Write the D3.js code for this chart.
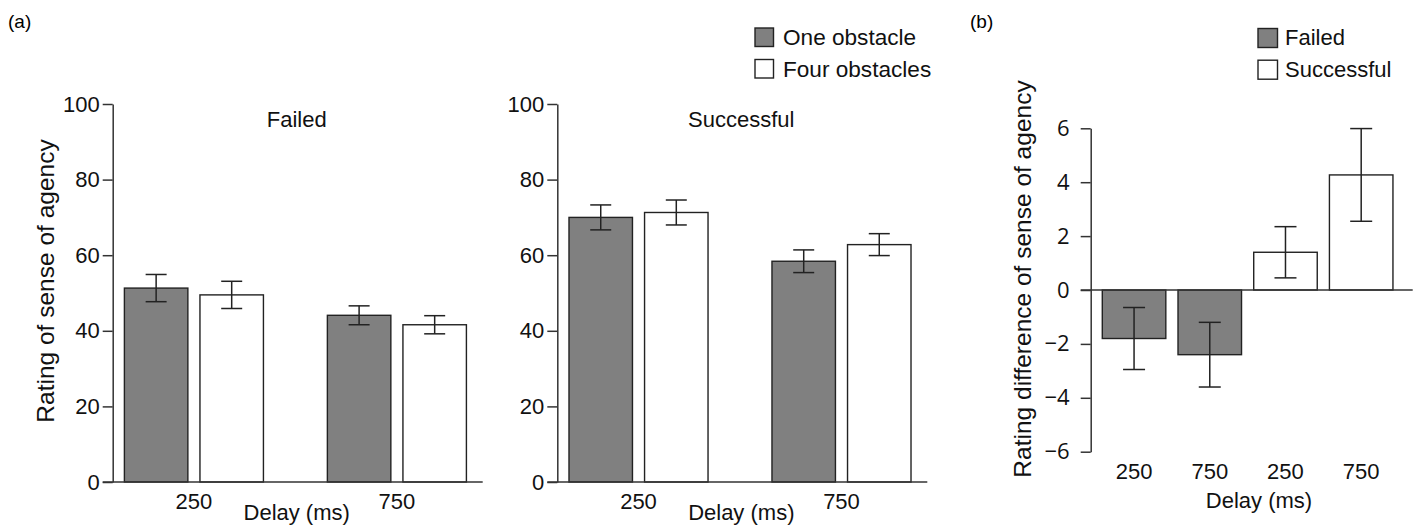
<!DOCTYPE html>
<html>
<head>
<meta charset="utf-8">
<script src="https://cdn.jsdelivr.net/npm/d3@7"></script>
<style>
body{margin:0;background:#fff;}
svg{display:block;font-family:"Liberation Sans",Arial,sans-serif;}
.axis path,.axis line{stroke:#333;stroke-width:1.5;}
.axis text{font-size:22px;fill:#111;font-family:"Liberation Sans",Arial,sans-serif;}
.tnum text{font-family:"Open Sans","Noto Sans",sans-serif;}
.lbl{font-size:22px;fill:#111;}
.ylbl{font-size:24.5px;fill:#111;}
</style>
</head>
<body>
<div id="chart"></div>
<script>
const width = 1414;
const height = 525;

// data
const delays = ["250","750"];
const obstacleSeries = ["One obstacle","Four obstacles"];
const failedOne = [51.3,44.1];
const failedOneErr = [3.6,2.5];
const failedFour = [49.5,41.6];
const failedFourErr = [3.6,2.4];
const successOne = [70.0,58.4];
const successOneErr = [3.3,3.0];
const successFour = [71.3,62.8];
const successFourErr = [3.3,2.9];
const ratingTicks = [0,20,40,60,80,100];

const diffDelays = ["250","750","250","750"];
const diffGroups = ["Failed","Failed","Successful","Successful"];
const diffValues = [-1.8,-2.4,1.4,4.27];
const diffErr = [1.15,1.2,0.95,1.72];
const diffTicks = [-6,-4,-2,0,2,4,6];

const fills = {"One obstacle":"#808080","Four obstacles":"#ffffff","Failed":"#808080","Successful":"#ffffff"};
const barStroke = "#222";

const svg = d3.select("#chart")
.append("svg")
.attr("width",width)
.attr("height",height);

////////////////////////////////////////////////
//// PANEL (a)
////////////////////////////////////////////////

const yA = d3.scaleLinear()
.domain([0,100])
.range([482,104]);

function drawPanel(left,title,one,oneErr,four,fourErr){
const g = svg.append("g");
const plotW = 368;

const x0 = d3.scaleBand()
.domain(delays)
.range([left,left+plotW])
.paddingInner(0.315)
.paddingOuter(0.064)
.align(0.45);

const x1 = d3.scaleBand()
.domain(obstacleSeries)
.range([0,x0.bandwidth()])
.paddingInner(0.16);

const rows = [];
delays.forEach((d,i)=>{
rows.push({delay:d,series:obstacleSeries[0],value:one[i],err:oneErr[i]});
rows.push({delay:d,series:obstacleSeries[1],value:four[i],err:fourErr[i]});
});

// BARS
g.selectAll("rect.bar")
.data(rows)
.enter()
.append("rect")
.attr("class","bar")
.attr("x",d=>x0(d.delay)+x1(d.series))
.attr("y",d=>yA(d.value))
.attr("width",x1.bandwidth())
.attr("height",d=>yA(0)-yA(d.value))
.attr("fill",d=>fills[d.series])
.attr("stroke",barStroke)
.attr("stroke-width",1.4);

// ERROR BARS
const eb = g.selectAll("g.err")
.data(rows)
.enter()
.append("g")
.attr("class","err")
.attr("transform",d=>`translate(${x0(d.delay)+x1(d.series)+x1.bandwidth()/2},0)`)
.attr("stroke","#222")
.attr("stroke-width",1.5);
eb.append("line").attr("y1",d=>yA(d.value+d.err)).attr("y2",d=>yA(d.value-d.err));
eb.append("line").attr("x1",-10.5).attr("x2",10.5).attr("y1",d=>yA(d.value+d.err)).attr("y2",d=>yA(d.value+d.err));
eb.append("line").attr("x1",-10.5).attr("x2",10.5).attr("y1",d=>yA(d.value-d.err)).attr("y2",d=>yA(d.value-d.err));

// Y AXIS
g.append("g")
.attr("class","axis")
.attr("transform",`translate(${left},0)`)
.call(d3.axisLeft(yA).tickValues(ratingTicks).tickSize(10).tickSizeOuter(0).tickPadding(3));

// BASELINE
g.append("line")
.attr("x1",left-10)
.attr("x2",left+plotW+2)
.attr("y1",yA(0))
.attr("y2",yA(0))
.attr("stroke","#333")
.attr("stroke-width",1.5);

// X AXIS LABELS
const xa = g.append("g")
.attr("class","axis")
.attr("transform",`translate(0,${yA(0)})`)
.call(d3.axisBottom(x0).tickSize(0).tickPadding(11));
xa.select(".domain").remove();

// TITLE
g.append("text")
.attr("class","lbl")
.attr("x",left+184)
.attr("y",127)
.attr("text-anchor","middle")
.text(title);

// X LABEL
g.append("text")
.attr("class","lbl")
.attr("x",left+184)
.attr("y",520)
.attr("text-anchor","middle")
.text("Delay (ms)");
}

drawPanel(112.7,"Failed",failedOne,failedOneErr,failedFour,failedFourErr);
drawPanel(557.3,"Successful",successOne,successOneErr,successFour,successFourErr);

// Y LABEL (a)
svg.append("text")
.attr("class","ylbl")
.attr("transform","translate(54,281) rotate(-90)")
.attr("text-anchor","middle")
.text("Rating of sense of agency");

// PANEL LETTERS
svg.append("text").attr("x",8).attr("y",28).style("font-size","19px").text("(a)");
svg.append("text").attr("x",970).attr("y",28).style("font-size","19px").text("(b)");

// LEGEND (a)
const legA = svg.append("g").attr("transform","translate(755,28)");
obstacleSeries.forEach((s,i)=>{
legA.append("rect")
.attr("x",0).attr("y",i*31.5)
.attr("width",18.5).attr("height",18.5)
.attr("fill",fills[s]).attr("stroke",barStroke).attr("stroke-width",1.4);
legA.append("text")
.attr("class","lbl")
.style("font-size","22.6px")
.attr("x",28).attr("y",i*32.5+16.5)
.text(s);
});

////////////////////////////////////////////////
//// PANEL (b)
////////////////////////////////////////////////

const leftB = 1090.7;
const rightB = 1412.7;

const yB = d3.scaleLinear()
.domain([-6,6])
.range([451.7,128.3]);

const xB = d3.scaleBand()
.domain(d3.range(diffValues.length))
.range([leftB,rightB])
.paddingInner(0.161)
.paddingOuter(0.207)
.align(0.37);

const diffData = diffValues.map((v,i)=>({i:i,delay:diffDelays[i],group:diffGroups[i],value:v,err:diffErr[i]}));

// BARS
svg.selectAll("rect.dbar")
.data(diffData)
.enter()
.append("rect")
.attr("class","dbar")
.attr("x",d=>xB(d.i))
.attr("y",d=>yB(Math.max(0,d.value)))
.attr("width",xB.bandwidth())
.attr("height",d=>Math.abs(yB(d.value)-yB(0)))
.attr("fill",d=>fills[d.group])
.attr("stroke",barStroke)
.attr("stroke-width",1.4);

// ERROR BARS
const ebB = svg.selectAll("g.derr")
.data(diffData)
.enter()
.append("g")
.attr("class","derr")
.attr("transform",d=>`translate(${xB(d.i)+xB.bandwidth()/2},0)`)
.attr("stroke","#222")
.attr("stroke-width",1.5);
ebB.append("line").attr("y1",d=>yB(d.value+d.err)).attr("y2",d=>yB(d.value-d.err));
ebB.append("line").attr("x1",-11).attr("x2",11).attr("y1",d=>yB(d.value+d.err)).attr("y2",d=>yB(d.value+d.err));
ebB.append("line").attr("x1",-11).attr("x2",11).attr("y1",d=>yB(d.value-d.err)).attr("y2",d=>yB(d.value-d.err));

// Y AXIS
svg.append("g")
.attr("class","axis tnum")
.attr("transform",`translate(${leftB},0)`)
.call(d3.axisLeft(yB).tickValues(diffTicks).tickFormat(d3.format("d")).tickSize(10).tickSizeOuter(0).tickPadding(11));

// ZERO LINE
svg.append("line")
.attr("x1",leftB-10)
.attr("x2",rightB)
.attr("y1",yB(0))
.attr("y2",yB(0))
.attr("stroke","#333")
.attr("stroke-width",1.5);

// X AXIS LABELS
const xbAxis = svg.append("g")
.attr("class","axis")
.attr("transform",`translate(0,${yB(-6)})`)
.call(d3.axisBottom(xB).tickSize(0).tickPadding(12).tickFormat(i=>diffDelays[i]));
xbAxis.select(".domain").remove();

// X LABEL
svg.append("text")
.attr("class","lbl")
.attr("x",1259)
.attr("y",508)
.attr("text-anchor","middle")
.text("Delay (ms)");

// Y LABEL
svg.append("text")
.attr("class","ylbl")
.attr("transform","translate(1031,279) rotate(-90)")
.attr("text-anchor","middle")
.text("Rating difference of sense of agency");

// LEGEND (b)
const legB = svg.append("g").attr("transform","translate(1258,28.5)");
["Failed","Successful"].forEach((s,i)=>{
legB.append("rect")
.attr("x",0).attr("y",i*31.7)
.attr("width",19.5).attr("height",19)
.attr("fill",fills[s]).attr("stroke",barStroke).attr("stroke-width",1.4);
legB.append("text")
.attr("class","lbl")
.attr("x",27).attr("y",i*32+16.5)
.text(s);
});
</script>
</body>
</html>
